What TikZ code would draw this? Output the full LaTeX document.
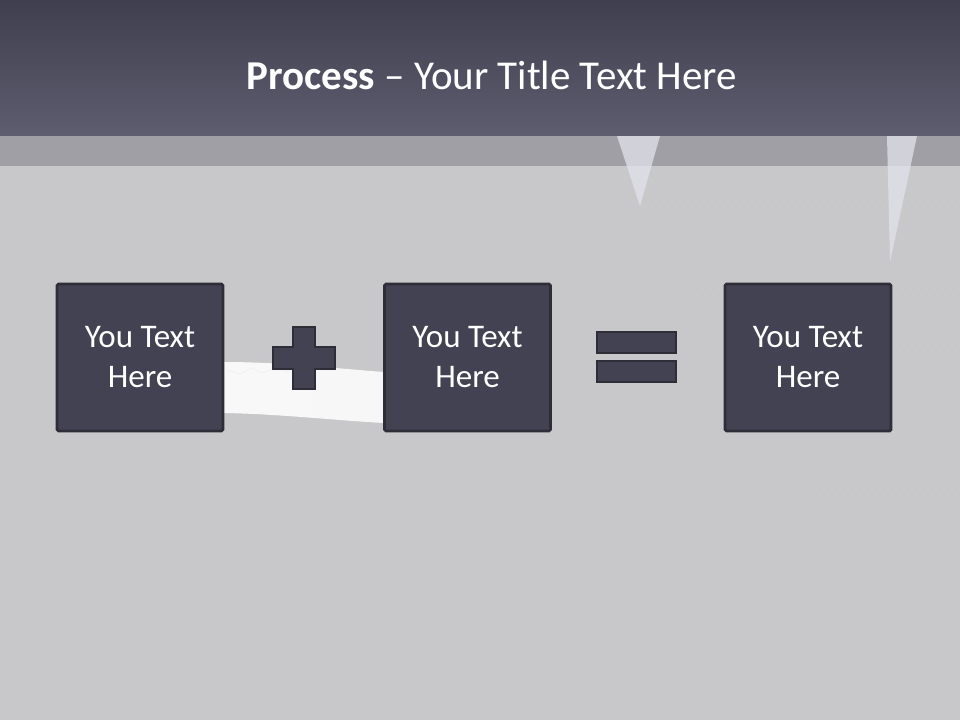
\documentclass[tikz,border=0pt]{standalone}
\usepackage{fontspec}
\setmainfont{Carlito}
\definecolor{bg}{HTML}{C8C8CA}
\definecolor{bandtop}{HTML}{403F4E}
\definecolor{bandbot}{HTML}{5E5D70}
\definecolor{strip}{HTML}{A09FA5}
\definecolor{boxfill}{HTML}{434252}
\definecolor{boxline}{HTML}{2E2D38}
\definecolor{ice}{HTML}{E2E2EC}
\tikzset{
  textbox/.style={draw=boxline, line width=2.8pt, fill=boxfill, rounded corners=1.5pt,
    minimum width=166pt, minimum height=147pt, inner sep=0pt, text=white,
    font=\fontsize{33}{40}\selectfont, align=center},
  symb/.style={draw=boxline, line width=2.5pt, fill=boxfill},
}
\begin{document}
\begin{tikzpicture}[x=1pt,y=-1pt]
\useasboundingbox (0,0) rectangle (960,720);
\fill[bg] (0,0) rectangle (960,720);
% faint diagonal texture
\begin{scope}
\clip (600,136) rectangle (960,720);
\foreach \i in {0,8,...,360}{
  \draw[white,opacity=0.05,line width=0.8pt] (600+\i,136) -- (600+\i+260,560);
}
\end{scope}
% title band
\shade[top color=bandtop, bottom color=bandbot] (0,0) rectangle (960,136);
\fill[strip] (0,136) rectangle (960,166);
% icicles
\fill[ice,opacity=0.75] (617,136) -- (660,136) -- (640,206) -- cycle;
\fill[ice,opacity=0.75] (887,136) -- (917,136) -- (890,262) -- cycle;
% brush stroke
\shade[left color=white!88!bg, right color=white!85!bg]
  (224,362) .. controls (280,362) and (330,368) .. (384,372)
  -- (384,423) .. controls (330,420) and (280,414) .. (224,413) -- cycle;
\draw[white!70!bg,line width=0.6pt] (228,370) -- (240,374) -- (252,368) -- (262,373) -- (274,368) -- (290,372);
\node[font=\fontsize{41}{46}\selectfont, text=white] (title) at (492,75)
  {\textbf{Process} – Your Title Text Here};
% boxes
\node[textbox] (b1) at (140,357.5) {You Text\\Here};
\node[textbox] (b2) at (467.5,357.5) {You Text\\Here};
\node[textbox] (b3) at (808,357.5) {You Text\\Here};
% plus
\draw[symb] (293,327) -- (315,327) -- (315,347) -- (335,347) -- (335,369) -- (315,369)
  -- (315,389) -- (293,389) -- (293,369) -- (273,369) -- (273,347) -- (293,347) -- cycle;
% equals
\draw[symb] (597,332) rectangle (676,353);
\draw[symb] (597,361) rectangle (676,382);
\end{tikzpicture}
\end{document}
